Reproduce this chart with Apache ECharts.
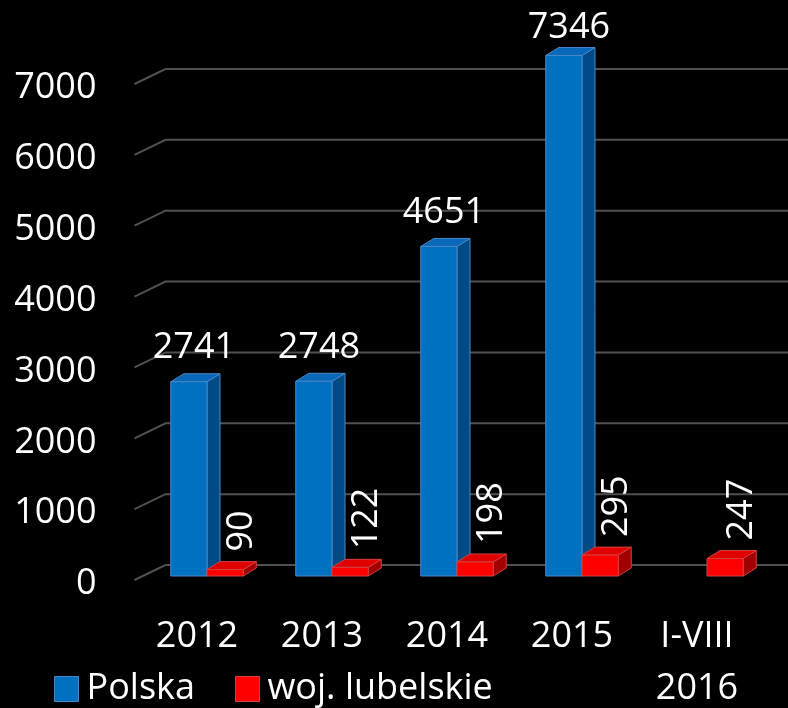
<!DOCTYPE html>
<html>
<head>
<meta charset="utf-8">
<script src="https://cdn.jsdelivr.net/npm/echarts@6/dist/echarts.min.js"></script>
<style>
  html, body { margin: 0; padding: 0; background: #000; }
  #chart1 { width: 788px; height: 708px; }
</style>
</head>
<body>
<div id="chart1"></div>
<script>
// dane z wykresu
var categories = ['2012', '2013', '2014', '2015', 'I-VIII\n2016'];
var polska = [2741, 2748, 4651, 7346, null];
var lubelskie = [90, 122, 198, 295, 247];
var yTicks = [0, 1000, 2000, 3000, 4000, 5000, 6000, 7000];

var FONT = 'Open Sans';
var DX = 13, DY = 8;

function toPairs(arr) {
    var out = [];
    for (var i = 0; i < arr.length; i++) {
        if (arr[i] !== null) out.push([i, arr[i]]);
    }
    return out;
}

// slupek "3D": przod, bok, gora + etykieta
function barRender(side, col, rotated) {
    return function (params, api) {
        var c = api.value(0), v = api.value(1);
        var top = api.coord([c, v]);
        var base = api.coord([c, 0]);
        var w = api.size([1, 0])[0] * 0.29;
        var x0 = side === 'left' ? top[0] - w : top[0];
        var x1 = x0 + w;
        var yT = top[1], yB = base[1];
        var mid = (x0 + x1) / 2;
        // etykieta nie wychodzi poza gore obszaru
        var label = rotated ? {
            type: 'text', x: mid + 17, y: yT - 18, rotation: Math.PI / 2,
            style: { text: String(v), fill: '#fff', fontSize: 36, fontFamily: FONT, align: 'left', verticalAlign: 'middle' }
        } : {
            type: 'text', x: mid + 5, y: Math.max(yT - 34, 28),
            style: { text: String(v), fill: '#fff', fontSize: 36, fontFamily: FONT, align: 'center', verticalAlign: 'middle' }
        };
        return {
            type: 'group',
            children: [
                { type: 'polygon', shape: { points: [[x1, yT], [x1 + DX, yT - DY], [x1 + DX, yB - DY], [x1, yB]] },
                  style: { fill: col.side, stroke: col.edge, lineWidth: 1 } },
                { type: 'polygon', shape: { points: [[x0, yT], [x0 + DX, yT - DY], [x1 + DX, yT - DY], [x1, yT]] },
                  style: { fill: col.top, stroke: col.edge, lineWidth: 1 } },
                { type: 'rect', shape: { x: x0, y: yT, width: w, height: yB - yT },
                  style: { fill: col.front, stroke: col.edge, lineWidth: 1 } },
                label
            ]
        };
    };
}

var blueCol = { front: '#0070C0', side: '#004A85', top: '#0A68BA', edge: '#4A86C8' };
var redCol = { front: '#FF0000', side: '#A00000', top: '#E00000', edge: '#D24040' };

var chart = echarts.init(document.getElementById('chart1'));

var option = {
    backgroundColor: '#000',
    animation: false,
    grid: { left: 144.5, right: 18.5, top: 80, bottom: 132, containLabel: false, outerBoundsMode: 'none' },
    legend: {
        left: 49, top: 666,
        itemWidth: 24, itemHeight: 25, itemGap: 40,
        textStyle: { color: '#fff', fontSize: 36, fontFamily: FONT, padding: [0, 0, 0, 3] },
        data: [
            { name: 'Polska', icon: 'rect', itemStyle: { color: '#0070C0', borderColor: '#4A86C8', borderWidth: 1 } },
            { name: 'woj. lubelskie', icon: 'rect', itemStyle: { color: '#FF0000', borderColor: '#D24040', borderWidth: 1 } }
        ]
    },
    xAxis: {
        type: 'category',
        data: categories,
        axisLine: { show: false },
        axisTick: { show: false },
        axisLabel: {
            color: '#fff', fontSize: 36, fontFamily: FONT, lineHeight: 52,
            margin: 35, padding: [0, 20, 0, 0], interval: 0
        }
    },
    yAxis: {
        type: 'value',
        min: 0, max: 7000, interval: 1000,
        axisLine: { show: false },
        axisTick: { show: false },
        splitLine: { show: false },
        axisLabel: {
            margin: 48,
            formatter: function (v) { return '{a|' + v + '}'; },
            rich: { a: { color: '#fff', fontSize: 36, fontFamily: FONT, padding: [16, 0, 0, 0] } }
        }
    },
    series: [
        {
            // linie siatki (tylna sciana + skos)
            type: 'custom',
            z: 1,
            silent: true,
            data: yTicks.map(function (t) { return [0, t]; }),
            renderItem: function (params, api) {
                var y = api.coord([0, api.value(1)])[1];
                var cs = params.coordSys;
                return {
                    type: 'polyline',
                    shape: { points: [[cs.x - 10, y + 4], [cs.x + 21, y - 11], [788, y - 11]] },
                    style: { stroke: '#505050', lineWidth: 2, fill: null }
                };
            }
        },
        {
            name: 'Polska',
            type: 'custom',
            z: 2,
            itemStyle: { color: '#0070C0' },
            data: toPairs(polska),
            renderItem: barRender('left', blueCol, false)
        },
        {
            name: 'woj. lubelskie',
            type: 'custom',
            z: 2,
            itemStyle: { color: '#FF0000' },
            data: toPairs(lubelskie),
            renderItem: barRender('right', redCol, true)
        }
    ]
};

chart.setOption(option, true);
</script>
</body>
</html>
